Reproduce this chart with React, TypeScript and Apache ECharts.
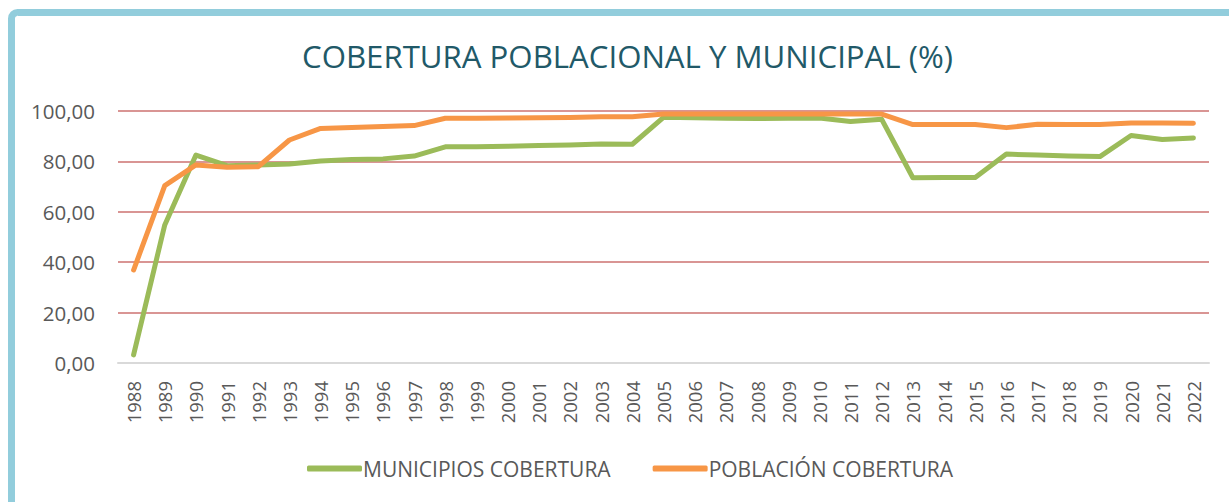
import React, { useEffect, useRef } from "react";
import * as echarts from "echarts";

const years = [
  "1988", "1989", "1990", "1991", "1992", "1993", "1994", "1995", "1996", "1997",
  "1998", "1999", "2000", "2001", "2002", "2003", "2004", "2005", "2006", "2007",
  "2008", "2009", "2010", "2011", "2012", "2013", "2014", "2015", "2016", "2017",
  "2018", "2019", "2020", "2021", "2022",
];

const municipios = [
  3.2, 54.8, 82.5, 78.3, 78.6, 79.0, 80.2, 80.8, 81.0, 82.1,
  85.8, 85.8, 86.0, 86.3, 86.5, 86.9, 86.8, 97.5, 97.3, 97.1,
  97.0, 97.1, 97.2, 95.8, 96.7, 73.5, 73.6, 73.6, 82.9, 82.5,
  82.1, 81.9, 90.3, 88.7, 89.3,
];

const poblacion = [
  36.9, 70.4, 78.6, 77.7, 77.9, 88.5, 93.1, 93.5, 93.8, 94.2,
  97.1, 97.1, 97.2, 97.3, 97.4, 97.7, 97.7, 98.8, 98.8, 98.8,
  98.8, 98.8, 98.8, 98.8, 98.8, 94.6, 94.6, 94.6, 93.4, 94.7,
  94.6, 94.6, 95.2, 95.2, 95.1,
];

const title = "COBERTURA POBLACIONAL Y MUNICIPAL (%)";
const seriesNames = ["MUNICIPIOS COBERTURA", "POBLACIÓN COBERTURA"];

export default function App() {
  const ref = useRef<HTMLDivElement>(null);
  useEffect(() => {
    if (!ref.current) return;
    const chart = echarts.init(ref.current, undefined, { renderer: "svg" });
    const font = "'Open Sans', 'Noto Sans', sans-serif";
    chart.setOption({
      animation: false,
      backgroundColor: "#ffffff",
      title: {
        text: title,
        left: 297,
        top: 35,
        textStyle: { color: "#215968", fontSize: 31.2, fontWeight: "normal", fontFamily: font },
      },
      graphic: [
        {
          type: "rect",
          shape: { x: 11.5, y: 12.5, width: 1300, height: 600, r: 6 },
          style: { fill: "none", stroke: "#92cddc", lineWidth: 7 },
          silent: true,
        },
      ],
      legend: {
        top: 453,
        left: 302,
        itemWidth: 55,
        itemHeight: 6,
        itemGap: 42,
        icon: "roundRect",
        textStyle: { color: "#595959", fontSize: 21, fontFamily: font, padding: [0, 0, 0, -4] },
        data: seriesNames,
      },
      grid: { left: 118, right: 20, top: 111, bottom: 139 },
      xAxis: {
        type: "category",
        data: years,
        boundaryGap: true,
        axisLine: { lineStyle: { color: "#d9d9d9", width: 2 } },
        axisTick: { show: false },
        axisLabel: { rotate: 90, margin: 18, color: "#595959", fontSize: 18.5, fontFamily: font, interval: 0 },
      },
      yAxis: {
        type: "value",
        min: 0,
        max: 100,
        interval: 20,
        axisLine: { show: false },
        axisTick: { show: false },
        splitLine: { lineStyle: { color: "#d99594", width: 2 } },
        axisLabel: {
          margin: 23,
          color: "#595959",
          fontSize: 20.5,
          fontFamily: font,
          formatter: (v: number) => v.toFixed(2).replace(".", ","),
        },
      },
      series: [
        {
          name: seriesNames[0],
          type: "line",
          data: municipios,
          symbol: "none",
          lineStyle: { color: "#9bbb59", width: 5, cap: "round", join: "round" },
          itemStyle: { color: "#9bbb59" },
        },
        {
          name: seriesNames[1],
          type: "line",
          data: poblacion,
          symbol: "none",
          lineStyle: { color: "#f79646", width: 5, cap: "round", join: "round" },
          itemStyle: { color: "#f79646" },
        },
      ],
    });
    return () => chart.dispose();
  }, []);
  return (
    <div
      ref={ref}
      style={{ position: "fixed", left: 0, top: 0, width: 1229, height: 502 }}
    />
  );
}
